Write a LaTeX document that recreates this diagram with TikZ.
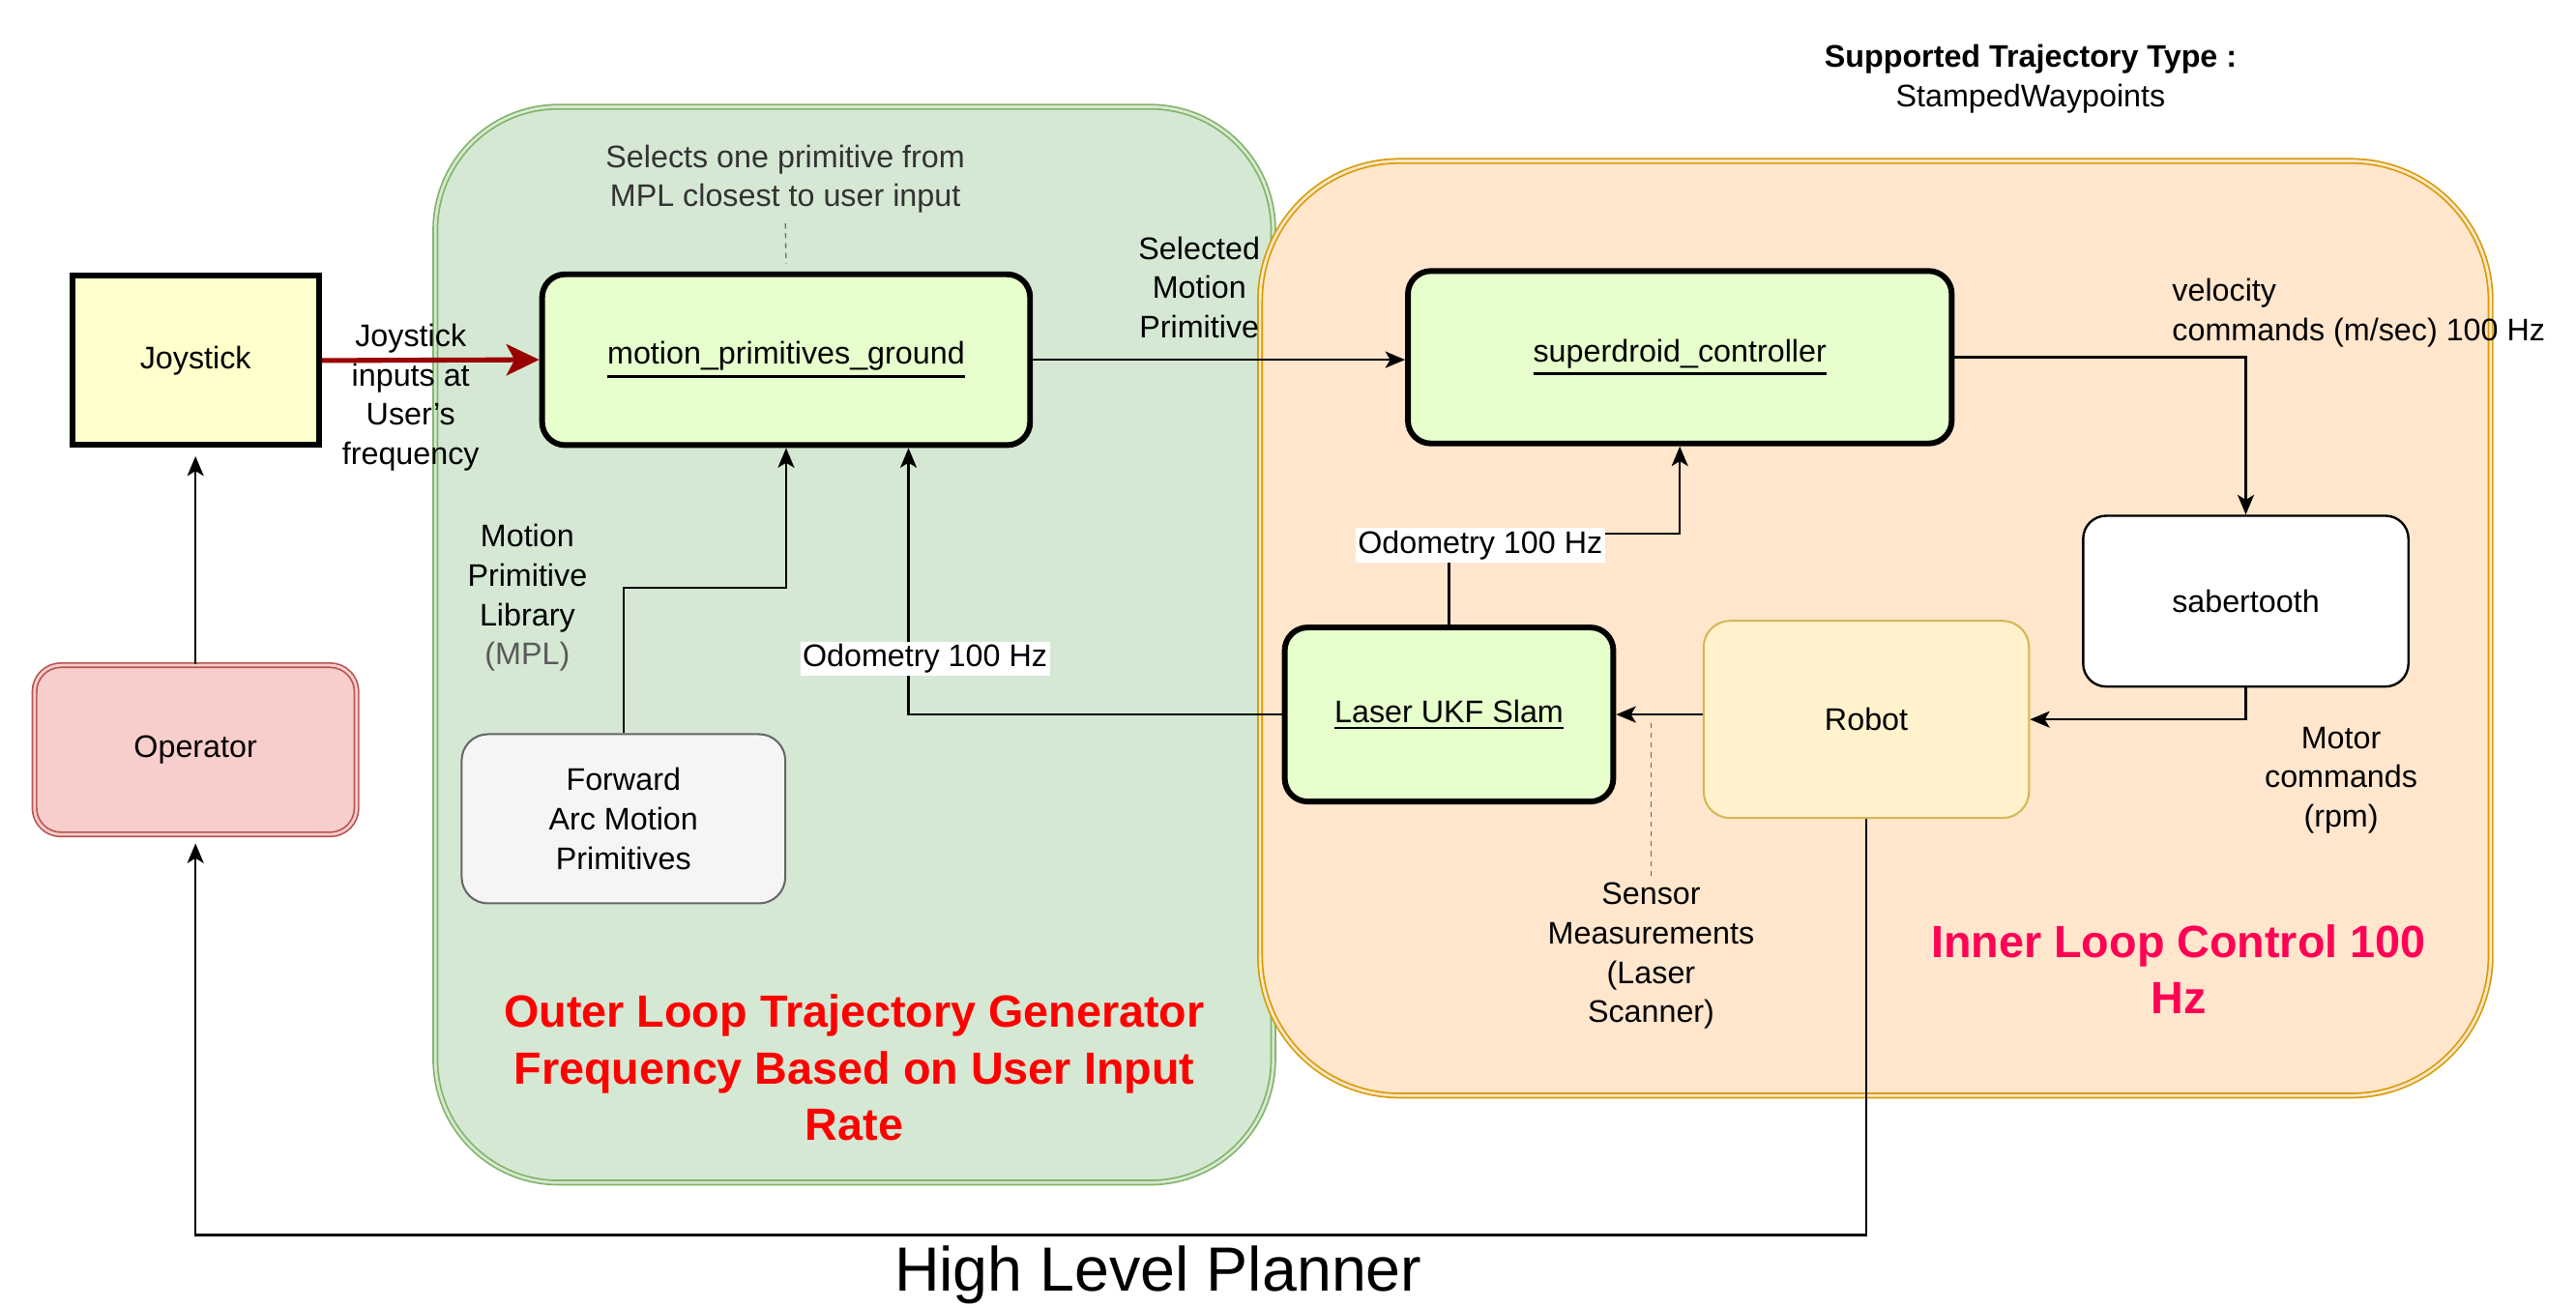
\documentclass[tikz,border=0pt]{standalone}
\usepackage{fontspec}
\setmainfont{Liberation Sans}
\usetikzlibrary{arrows.meta,calc}
\definecolor{greenfill}{HTML}{D5E8D4}
\definecolor{greenline}{HTML}{82B366}
\definecolor{orangefill}{HTML}{FFE6CC}
\definecolor{orangeline}{HTML}{D79B00}
\definecolor{nodegreen}{HTML}{E6FFCC}
\definecolor{joyfill}{HTML}{FFFFCC}
\definecolor{opfill}{HTML}{F8CECC}
\definecolor{opline}{HTML}{B85450}
\definecolor{robfill}{HTML}{FFF2CC}
\definecolor{robline}{HTML}{D6B656}
\definecolor{fwdfill}{HTML}{F5F5F5}
\definecolor{fwdline}{HTML}{666666}
\definecolor{darkred}{HTML}{990000}
\definecolor{pinkred}{HTML}{FF0055}
\definecolor{titlered}{HTML}{FF0000}
\newcommand{\thickul}[1]{\setbox0\hbox{#1}\leavevmode\vtop{\copy0\kern2.5pt\hrule height 1.6pt width \wd0}}
\begin{document}
\begin{tikzpicture}[x=1pt,y=-1pt,
  every node/.style={font=\fontsize{19}{24}\selectfont, align=center, inner sep=0pt},
  container/.style={line width=1pt, double distance=1.6pt},
  thickbox/.style={draw=black, line width=3.5pt, fill=nodegreen, rounded corners=14pt},
  plainbox/.style={draw=black, line width=1.4pt, fill=white, rounded corners=14pt},
  arr/.style={draw=black, line width=1.4pt, -{Stealth[length=12pt,width=10pt,inset=3pt]}},
  redarr/.style={draw=darkred, line width=3pt, -{Stealth[length=20pt,width=19pt,inset=5pt]}},
  dashline/.style={draw=black!60, line width=0.8pt, dash pattern=on 3pt off 3pt},
  lbl/.style={fill=white, inner sep=1.5pt},
  bigtitle/.style={font=\fontsize{27.5}{34.5}\selectfont\bfseries}
]
\useasboundingbox (0,0) rectangle (1568,796);

% containers
\node[container, draw=greenline, double=greenfill, fill=greenfill, rounded corners=75pt,
      minimum width=510pt, minimum height=655pt] (outer) at (520,392.5) {};
\node[container, draw=orangeline, double=orangefill, fill=orangefill, rounded corners=85pt,
      minimum width=749pt, minimum height=569pt] (inner) at (1141.5,382.5) {};

% titles
\node[bigtitle, text=titlered] (outertitle) at (520,650) {Outer Loop Trajectory Generator\\Frequency Based on User Input\\Rate};
\node[bigtitle, text=pinkred] (innertitle) at (1326,590) {Inner Loop Control 100\\Hz};
\node[font=\fontsize{38}{44}\selectfont, anchor=base] (hlp) at (705,786) {High Level Planner};
\node (supp) at (1236,48) {{\bfseries Supported Trajectory Type :}\\StampedWaypoints};

% nodes
\node[draw=black, line width=3.5pt, fill=joyfill, minimum width=150pt, minimum height=103pt] (joy) at (119,219.5) {Joystick};
\node[container, draw=opline, double=opfill, fill=opfill, rounded corners=16pt,
      minimum width=196pt, minimum height=103pt] (op) at (119,456.5) {Operator};
\node[thickbox, minimum width=297pt, minimum height=104pt] (mpg) at (478.5,219) {\thickul{motion\_primitives\_ground}};
\node[thickbox, minimum width=331pt, minimum height=105pt] (sd) at (1022.5,217.5) {\thickul{superdroid\_controller}};
\node[plainbox, minimum width=198pt, minimum height=104pt] (sab) at (1367,366) {sabertooth};
\node[draw=robline, line width=1.2pt, fill=robfill, rounded corners=16pt, minimum width=198pt, minimum height=120pt] (robot) at (1136,438) {Robot};
\node[thickbox, minimum width=200pt, minimum height=106pt] (laser) at (882,435) {\thickul{Laser UKF Slam}};
\node[draw=fwdline, line width=1.2pt, fill=fwdfill, rounded corners=16pt, minimum width=197pt, minimum height=103pt] (fwd) at (379.5,498.5) {Forward\\Arc Motion\\Primitives};

% helper coordinates
\coordinate (bottomrun) at (600,752);
\coordinate (odoknee) at (950,325);
\coordinate (mplknee) at (430,358);

% connectors
\draw[arr, shorten >=5pt] (op) -- (joy);
\draw[arr, shorten >=5pt] (robot.south) |- (bottomrun) -| (op.south);
\draw[redarr] (joy.east) -- (mpg.west);
\draw[arr] (mpg.east) -- (mpg.east -| sd.west);
\draw[arr] (sd.east) -| (sab.north);
\draw[arr] (sab.south) |- (robot.east);
\draw[arr] (robot.west |- laser.east) -- (laser.east);
\draw[arr] (laser.north) |- (odoknee) -| (sd.south);
\draw[arr] (laser.west) -| ([xshift=74.5pt]mpg.south);
\draw[arr] (fwd.north) |- (mplknee) -| (mpg.south);

% labels
\node (joylbl) at (250,242) {Joystick\\inputs at\\User's\\frequency};
\node (sellbl) at (730,175) {Selected\\Motion\\Primitive};
\node[text=black!80] (selects) at (478,109) {Selects one primitive from\\MPL closest to user input};
\draw[dashline, shorten <=6pt, shorten >=5pt] (selects.south) -- (mpg.north);
\node[anchor=west, align=left] (vel) at (1322,190.5) {velocity\\commands (m/sec) 100 Hz};
\node (motor) at (1425,475) {Motor\\commands\\(rpm)};
\node[lbl] (odo1) at (901,332) {Odometry 100 Hz};
\node[lbl] (odo2) at (563,401) {Odometry 100 Hz};
\node (mpl) at (321,364) {Motion\\Primitive\\Library\\\textcolor{black!65}{(MPL)}};
\node (sensor) at (1005,582) {Sensor\\Measurements\\(Laser\\Scanner)};
\draw[dashline, shorten <=4pt, shorten >=4pt] (sensor.north) -- (sensor.north |- laser.east);
\end{tikzpicture}
\end{document}
